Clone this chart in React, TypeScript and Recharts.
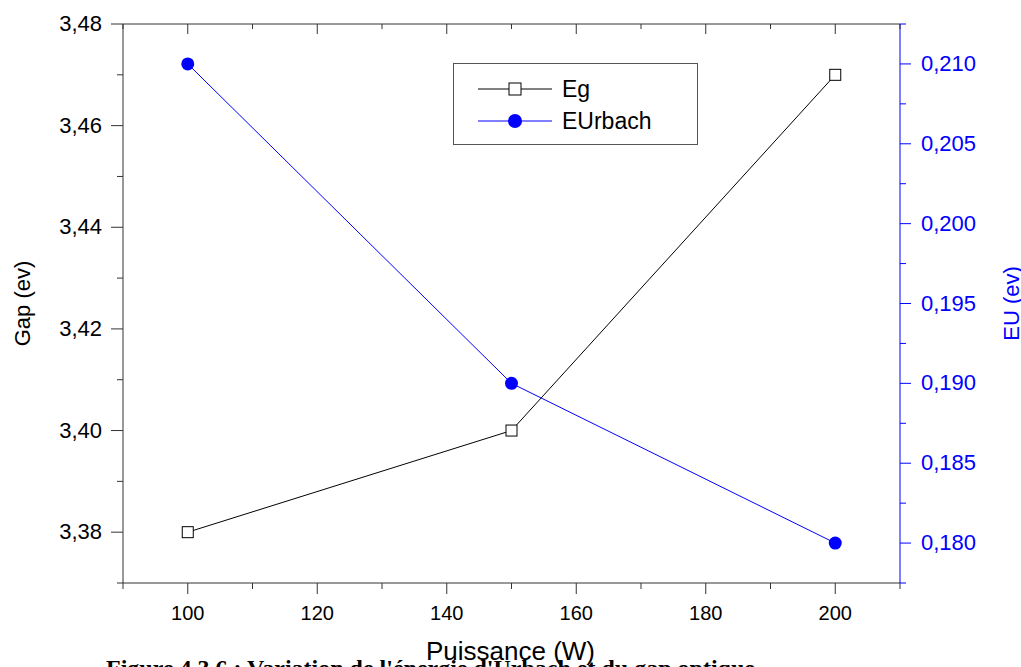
import { LineChart, Line, XAxis, YAxis } from 'recharts';

const puissance = [100, 150, 200];
const eg = [3.38, 3.4, 3.47];
const eUrbach = [0.21, 0.19, 0.18];

const xTicks = [90, 100, 110, 120, 130, 140, 150, 160, 170, 180, 190, 200, 210];
const xMajor = [100, 120, 140, 160, 180, 200];
const leftTicks = [3.37, 3.38, 3.39, 3.4, 3.41, 3.42, 3.43, 3.44, 3.45, 3.46, 3.47, 3.48];
const leftMajor = ['3,38', '3,40', '3,42', '3,44', '3,46', '3,48'];
const rightTicks = [0.1775, 0.18, 0.1825, 0.185, 0.1875, 0.19, 0.1925, 0.195, 0.1975, 0.2, 0.2025, 0.205, 0.2075, 0.21, 0.2125];
const rightMajor = ['0,180', '0,185', '0,190', '0,195', '0,200', '0,205', '0,210'];

const data = puissance.map((p, i) => ({ p, eg: eg[i], eu: eUrbach[i] }));

const AXIS = '#333';
const BLUE = '#0000ff';
const FONT = 'Liberation Sans, Arial, sans-serif';

const fmtLeft = (v: number) => v.toFixed(2).replace('.', ',');
const fmtRight = (v: number) => v.toFixed(3).replace('.', ',');

function BottomTick(props: any) {
  const { x, y, payload } = props;
  const major = xMajor.includes(payload.value);
  return (
    <g>
      <line x1={x} x2={x} y1={y} y2={y + (major ? 11 : 6)} stroke={AXIS} />
      {major && (
        <text x={x} y={y + 37} textAnchor="middle" fontSize={20} fontFamily={FONT} fill="#000">
          {payload.value}
        </text>
      )}
    </g>
  );
}

function TopTick(props: any) {
  const { x, y, payload } = props;
  const major = xMajor.includes(payload.value);
  return <line x1={x} x2={x} y1={y} y2={y + (major ? 10 : 5)} stroke={AXIS} />;
}

function LeftTick(props: any) {
  const { x, y, payload } = props;
  const label = fmtLeft(payload.value);
  const major = leftMajor.includes(label);
  return (
    <g>
      <line x1={x} x2={x - (major ? 12 : 6)} y1={y} y2={y} stroke={AXIS} />
      {major && (
        <text x={x - 21} y={y + 7} textAnchor="end" fontSize={22} fontFamily={FONT} fill="#000">
          {label}
        </text>
      )}
    </g>
  );
}

function RightTick(props: any) {
  const { x, y, payload } = props;
  const label = fmtRight(payload.value);
  const major = rightMajor.includes(label);
  return (
    <g>
      <line x1={x} x2={x + (major ? 11 : 6)} y1={y} y2={y} stroke={BLUE} />
      {major && (
        <text x={x + 21} y={y + 7} textAnchor="start" fontSize={22} fontFamily={FONT} fill={BLUE}>
          {label}
        </text>
      )}
    </g>
  );
}

function LegendBox() {
  return (
    <div
      style={{
        position: 'absolute',
        left: 453,
        top: 63,
        width: 245,
        height: 82,
        border: '1px solid #555',
        background: '#fff',
        boxSizing: 'border-box',
      }}
    >
      <svg width={243} height={80} style={{ display: 'block' }}>
        <line x1={24} x2={98} y1={25} y2={25} stroke="#000" />
        <rect x={55} y={19} width={12} height={12} fill="#fff" stroke="#000" />
        <text x={108} y={33} fontSize={23} fontFamily={FONT} fill="#000">Eg</text>
        <line x1={24} x2={98} y1={57} y2={57} stroke={BLUE} />
        <circle cx={61} cy={57} r={7} fill={BLUE} />
        <text x={108} y={65} fontSize={23} fontFamily={FONT} fill="#000">EUrbach</text>
      </svg>
    </div>
  );
}

const Square = (props: any) => {
  const { cx, cy } = props;
  if (cx == null || cy == null) return null;
  return <rect x={cx - 5.5} y={cy - 5.5} width={11} height={11} fill="#fff" stroke="#000" />;
};

export default function App() {
  return (
    <div style={{ position: 'absolute', left: 0, top: 0, width: 1021, height: 667, overflow: 'hidden', background: '#fff' }}>
      <LineChart width={1021} height={667} data={data} margin={{ top: 23, right: 0, bottom: 0, left: 0 }}>
        <XAxis
          xAxisId="bottom"
          dataKey="p"
          type="number"
          domain={[90, 210]}
          ticks={xTicks}
          interval={0}
          height={84}
          tickSize={0}
          tickMargin={0}
          tickLine={false}
          axisLine={{ stroke: AXIS }}
          tick={<BottomTick />}
        />
        <XAxis
          xAxisId="top"
          orientation="top"
          dataKey="p"
          type="number"
          domain={[90, 210]}
          ticks={xTicks}
          interval={0}
          height={1}
          tickSize={0}
          tickMargin={0}
          tickLine={false}
          axisLine={{ stroke: AXIS }}
          tick={<TopTick />}
        />
        <YAxis
          yAxisId="left"
          type="number"
          domain={[3.37, 3.48]}
          ticks={leftTicks}
          interval={0}
          width={123}
          tickSize={0}
          tickMargin={0}
          tickLine={false}
          axisLine={{ stroke: AXIS }}
          tick={<LeftTick />}
          label={{ value: 'Gap (ev)', angle: -90, position: 'insideLeft', offset: 22, style: { fontSize: 22, fontFamily: FONT, fill: '#000', textAnchor: 'middle' } }}
        />
        <YAxis
          yAxisId="right"
          orientation="right"
          type="number"
          domain={[0.1775, 0.2125]}
          ticks={rightTicks}
          interval={0}
          width={121}
          tickSize={0}
          tickMargin={0}
          tickLine={false}
          axisLine={{ stroke: BLUE }}
          tick={<RightTick />}
          label={{ value: 'EU (ev)', angle: -90, position: 'insideRight', offset: 10, style: { fontSize: 22, fontFamily: FONT, fill: BLUE, textAnchor: 'middle' } }}
        />
        <Line
          xAxisId="bottom"
          yAxisId="left"
          dataKey="eg"
          stroke="#000"
          strokeWidth={1}
          dot={<Square />}
          isAnimationActive={false}
        />
        <Line
          xAxisId="bottom"
          yAxisId="right"
          dataKey="eu"
          stroke={BLUE}
          strokeWidth={1}
          dot={{ r: 6.5, fill: BLUE, stroke: BLUE, strokeWidth: 0 }}
          isAnimationActive={false}
        />
      </LineChart>
      <LegendBox />
      <div style={{ position: 'absolute', left: 0, top: 636, width: 1021, textAlign: 'center', fontFamily: FONT, fontSize: 26, color: '#000', lineHeight: '30px' }}>
        Puissance (W)
      </div>
      <div style={{ position: 'absolute', left: 106, top: 654, whiteSpace: 'nowrap', fontFamily: 'Liberation Serif, Times New Roman, serif', fontWeight: 'bold', fontSize: 24, color: '#000', lineHeight: '28px' }}>
        Figure 4.3.6 : Variation de l'énergie d'Urbach et du gap optique
      </div>
    </div>
  );
}
